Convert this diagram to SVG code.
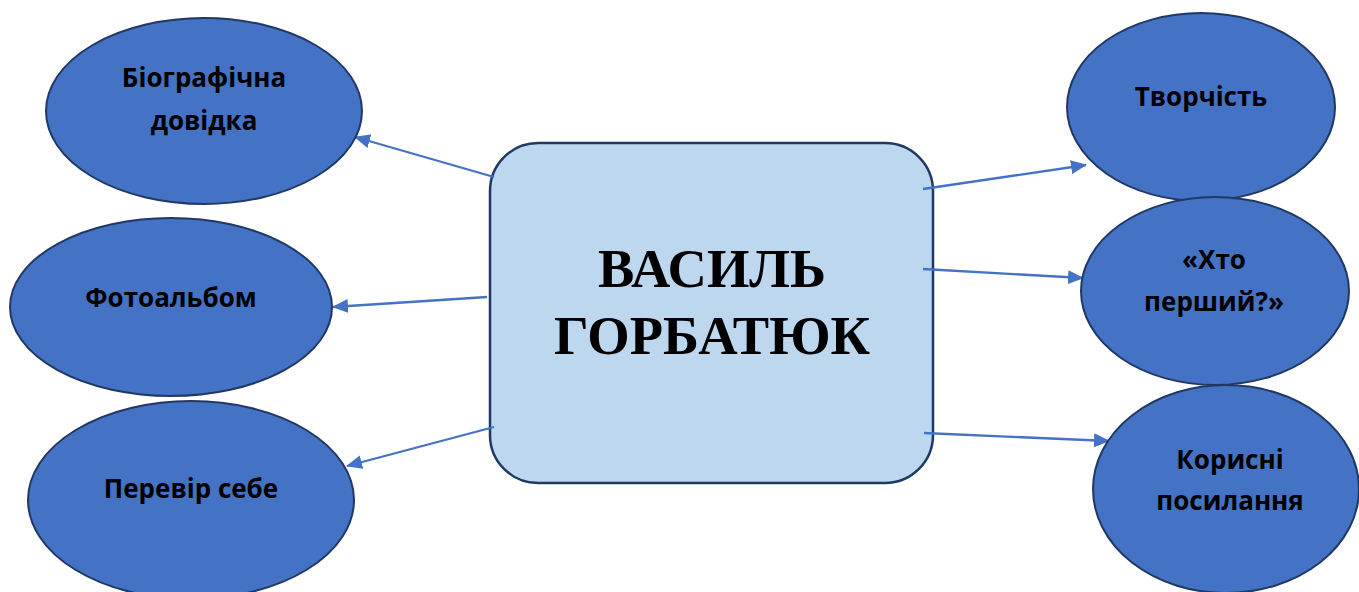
<svg xmlns="http://www.w3.org/2000/svg" width="1359" height="592" viewBox="0 0 1359 592">
  <defs>
    <marker id="arrow" markerUnits="userSpaceOnUse" markerWidth="16" markerHeight="14" refX="15" refY="7" orient="auto">
      <path d="M0,0 L16,7 L0,14 Z" fill="#4472C4"/>
    </marker>
    <style>
      .topic { fill: #4472C4; stroke: #203864; stroke-width: 2; }
      .topic-label { font-family: "Open Sans", "Liberation Sans", sans-serif; font-weight: 700; font-size: 26px; fill: #000; text-anchor: middle; }
      .hub { fill: #BDD7EE; stroke: #203864; stroke-width: 2.5; }
      .hub-label { font-family: "Liberation Serif", "Times New Roman", serif; font-weight: 700; font-size: 54.5px; fill: #000; text-anchor: middle; }
      .link { stroke: #4472C4; stroke-width: 2.3; fill: none; marker-end: url(#arrow); }
    </style>
  </defs>

  <rect width="1359" height="592" fill="#ffffff"/>

  <!-- central node -->
  <g id="hub">
    <rect class="hub" x="490" y="143" width="443" height="340" rx="48" ry="48"/>
    <text class="hub-label" x="712" y="287">ВАСИЛЬ</text>
    <text class="hub-label" x="712" y="354">ГОРБАТЮК</text>
  </g>

  <!-- connectors -->
  <g id="connectors">
    <line class="link" x1="494" y1="177" x2="355" y2="137"/>
    <line class="link" x1="487" y1="297" x2="333" y2="307"/>
    <line class="link" x1="494" y1="427" x2="347" y2="466"/>
    <line class="link" x1="923" y1="189" x2="1086" y2="165"/>
    <line class="link" x1="923" y1="269" x2="1083" y2="278"/>
    <line class="link" x1="924" y1="433" x2="1109" y2="441"/>
  </g>

  <!-- left topics -->
  <g id="biography">
    <ellipse class="topic" cx="204" cy="111" rx="158" ry="93"/>
    <text class="topic-label" x="204" y="87">Біографічна</text>
    <text class="topic-label" x="204" y="130">довідка</text>
  </g>
  <g id="photo-album">
    <ellipse class="topic" cx="171" cy="307" rx="161" ry="89"/>
    <text class="topic-label" x="171" y="307">Фотоальбом</text>
  </g>
  <g id="self-test">
    <ellipse class="topic" cx="191" cy="500" rx="163" ry="99"/>
    <text class="topic-label" x="191" y="498">Перевір себе</text>
  </g>

  <!-- right topics -->
  <g id="works">
    <ellipse class="topic" cx="1201" cy="107" rx="134" ry="94"/>
    <text class="topic-label" x="1201" y="106">Творчість</text>
  </g>
  <g id="who-first">
    <ellipse class="topic" cx="1215" cy="291" rx="134" ry="94"/>
    <text class="topic-label" x="1214" y="269">«Хто</text>
    <text class="topic-label" x="1214" y="311">перший?»</text>
  </g>
  <g id="links">
    <ellipse class="topic" cx="1226" cy="489" rx="133" ry="104"/>
    <text class="topic-label" x="1230" y="469">Корисні</text>
    <text class="topic-label" x="1230" y="510">посилання</text>
  </g>
</svg>
